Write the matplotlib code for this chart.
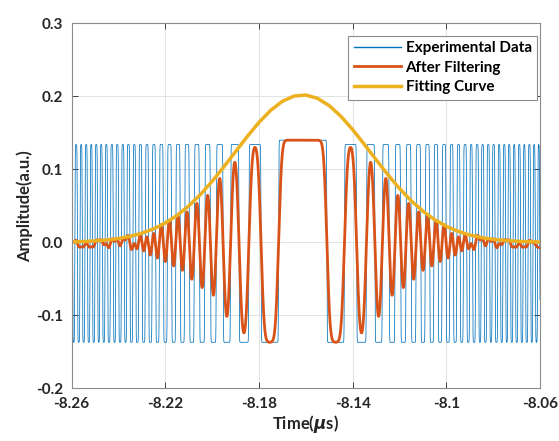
import numpy as np
import matplotlib
matplotlib.use("Agg")
import matplotlib.pyplot as plt

plt.rcParams['font.family'] = ['Lato', 'DejaVu Sans']
plt.rcParams['font.weight'] = 'bold'
plt.rcParams['mathtext.fontset'] = 'dejavusans'

# centre of the chirp (us) and the edge offsets of the square wave
t_center = -8.1613
edge_offsets = [0.0103, 0.0178, 0.0230, 0.0272, 0.0308, 0.0340, 0.0369, 0.0394,
                0.0418, 0.0441, 0.0463, 0.0484, 0.0504, 0.0523, 0.0542, 0.0560,
                0.0578, 0.0595, 0.0612, 0.0628, 0.0643, 0.0658, 0.0672, 0.0686,
                0.0700, 0.0713, 0.0725, 0.0738, 0.0751, 0.0762, 0.0774, 0.0786,
                0.0798, 0.0809, 0.0821, 0.0833, 0.0844, 0.0855, 0.0866, 0.0876,
                0.0887, 0.0898, 0.0908, 0.0919, 0.0930, 0.0941, 0.0951, 0.0962,
                0.0973, 0.0983, 0.0993, 0.1003, 0.1012, 0.1022, 0.1032]
level_center = 0.140
level_high = 0.134
level_low = -0.137

# the gaussian fit, read at steps of 0.005 us from -8.26
fit_t = [-8.26 + 0.005 * k for k in range(41)]
fit_y = [0.0006, 0.0011, 0.0019, 0.0032, 0.0052, 0.0082, 0.0125, 0.0184, 0.0264,
         0.0368, 0.0498, 0.0654, 0.0835, 0.1033, 0.1242, 0.1449, 0.1643, 0.1808,
         0.1932, 0.2004, 0.2018, 0.1973, 0.1873, 0.1727, 0.1545, 0.1342, 0.1133,
         0.0928, 0.0738, 0.0570, 0.0427, 0.0310, 0.0219, 0.0151, 0.0100, 0.0065,
         0.0041, 0.0025, 0.0015, 0.0008, 0.0005]

filter_sigma = 0.00106   # us, low-pass used for the "after filtering" trace
edge_sigma = 0.00012     # us, rise time of the measured edges

x_ticks = [-8.26, -8.22, -8.18, -8.14, -8.1, -8.06]
x_labels = ['-8.26', '-8.22', '-8.18', '-8.14', '-8.1', '-8.06']
y_ticks = [0.3, 0.2, 0.1, 0.0, -0.1, -0.2]
y_labels = ['0.3', '0.2', '0.1', '0.0', '-0.1', '-0.2']


def smooth(y, sigma, dt):
    half = int(4 * sigma / dt)
    k = np.arange(-half, half + 1) * dt
    kern = np.exp(-0.5 * (k / sigma) ** 2)
    kern = kern / kern.sum()
    return np.convolve(y, kern, mode='same')


dt = 1e-5
t = np.arange(-8.265, -8.055 + dt / 2, dt)
count = np.searchsorted(np.array(edge_offsets), np.abs(t - t_center))
square = np.where(count % 2 == 0, level_high, level_low)
square[count == 0] = level_center

blue = smooth(square, edge_sigma, dt)
orange = smooth(square, filter_sigma, dt)
keep = (t >= -8.26 - dt / 2) & (t <= -8.06 + dt / 2)

fig = plt.figure(figsize=(5.59, 4.41), dpi=100)
ax = fig.add_axes([0.128, 0.1195, 0.838, 0.8275])

ax.plot(t[keep], blue[keep], color='#0072BD', lw=0.55, label='Experimental Data')
ax.plot(t[keep], orange[keep], color='#D95319', lw=2.0, label='After Filtering')
ax.plot(fit_t, fit_y, color='#EDB120', lw=2.5, label='Fitting Curve')

ax.set_xlim(-8.26, -8.06)
ax.set_ylim(-0.2, 0.3)
ax.set_xticks(x_ticks)
ax.set_xticklabels(x_labels)
ax.set_yticks(y_ticks)
ax.set_yticklabels(y_labels)
ax.tick_params(direction='in', top=True, right=True, labelsize=11,
               colors='#262626', length=4, width=0.6)
ax.tick_params(axis='x', pad=6)
ax.tick_params(axis='y', pad=6)
for s in ax.spines.values():
    s.set_color('#8c8c8c')
    s.set_linewidth(0.8)
ax.grid(True, color='#e3e3e3', lw=0.7)
ax.set_axisbelow(True)

ax.set_xlabel(r'Time($\mu$s)', fontsize=12, fontweight='bold', color='#262626', labelpad=2)
ax.set_ylabel('Amplitude(a.u.)', fontsize=12, fontweight='bold', color='#262626', labelpad=2)

leg = ax.legend(loc='upper right', bbox_to_anchor=(0.9936, 0.965), borderaxespad=0,
                fancybox=False, framealpha=1, edgecolor='#8c8c8c',
                handlelength=3.1, handletextpad=0.3, fontsize=11,
                borderpad=0.35, labelspacing=0.35)
leg.get_frame().set_linewidth(0.8)
leg.get_lines()[0].set_linewidth(1.0)

fig.savefig('out.png', dpi=100)
